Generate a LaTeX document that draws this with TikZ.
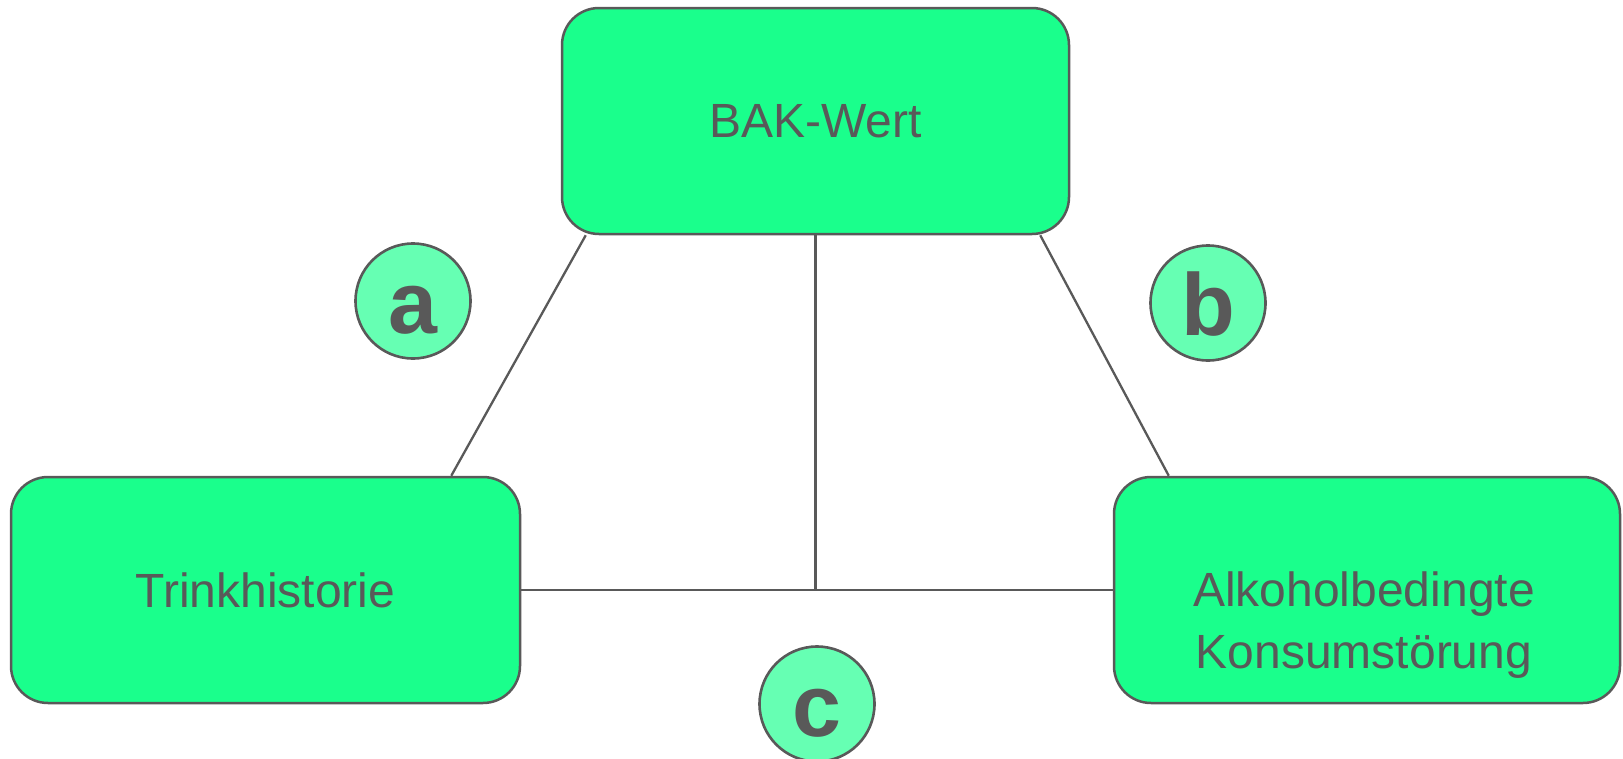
\documentclass[tikz,border=0pt]{standalone}
\usepackage{fontspec}
\setmainfont{Liberation Sans}
\definecolor{boxgreen}{HTML}{1AFF8C}
\definecolor{dotgreen}{HTML}{66FFB3}
\definecolor{ink}{HTML}{595959}
\begin{document}
\begin{tikzpicture}[x=1pt,y=-1pt,
  box/.style={draw=ink, line width=2.5pt, fill=boxgreen, rounded corners=37pt,
    inner sep=0pt, text=ink, font=\fontsize{48}{59}\selectfont},
  tag/.style={circle, draw=ink, line width=2.6pt, fill=dotgreen, minimum size=115pt,
    inner sep=0pt, text=ink, font=\fontsize{88}{88}\selectfont\bfseries,
    text height=64pt, text depth=0pt},
  link/.style={draw=ink, line width=2.3pt}]
\useasboundingbox (0,0) rectangle (1623,758);

% the three factors
\node[box, minimum width=507pt, minimum height=226pt] (top) at (815.5,121) {\raisebox{-3pt}{BAK-Wert}};
\node[box, minimum width=509pt, minimum height=226pt] (left) at (265.5,590) {Trinkhistorie};
\node[box, minimum width=506pt, minimum height=226pt] (right) at (1367,590) {};
\node[text=ink, font=\fontsize{48}{62}\selectfont, align=center] (rtext) at (1364,625)
  {Alkoholbedingte\\ Konsumstörung};

% connections between them
\coordinate (junction) at (top.south |- left.east);
\draw[link] ([xshift=25pt]top.south west) -- ([xshift=-70pt]left.north east);
\draw[link] ([xshift=-30pt]top.south east) -- ([xshift=56pt]right.north west);
\draw[link] (top.south) -- (junction);
\draw[link] (left.east) -- (right.west);

% path labels
\node[tag] (a) at (413,301) {a};
\node[tag] (b) at (1208,303) {b};
\node[tag] (c) at (817,704) {c};
\end{tikzpicture}
\end{document}
